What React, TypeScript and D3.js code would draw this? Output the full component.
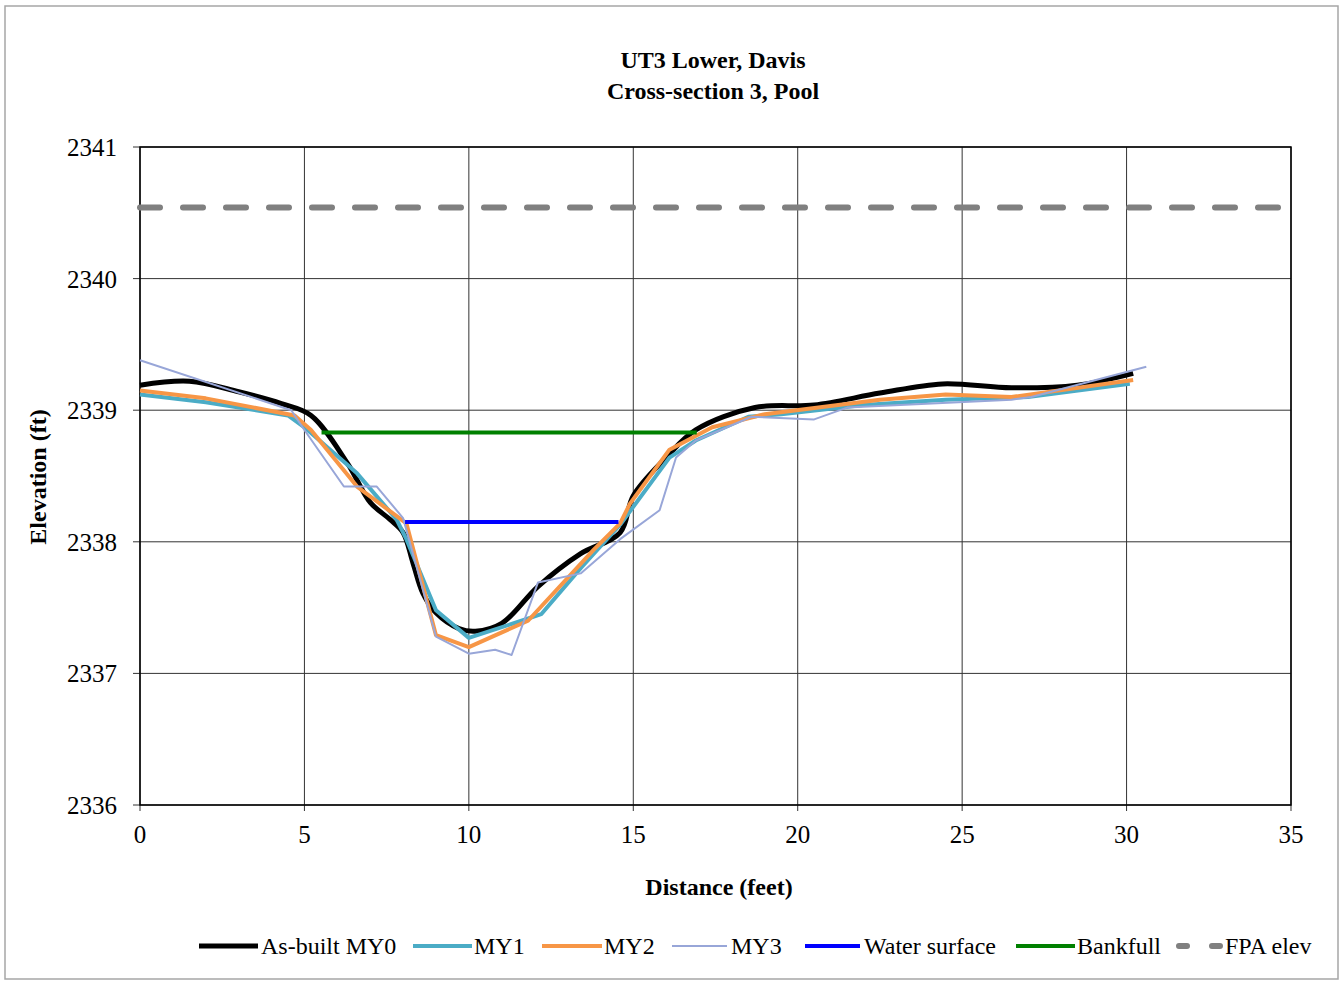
import React from "react";
import * as d3 from "d3";

// ---- data ----
const titleLines = ["UT3 Lower, Davis", "Cross-section 3, Pool"];
const xTicks = [0, 5, 10, 15, 20, 25, 30, 35];
const yTicks = [2336, 2337, 2338, 2339, 2340, 2341];

const asBuiltMY0: [number, number][] = [
  [0, 2339.19], [1.5, 2339.22], [3, 2339.14], [4.3, 2339.05], [5.2, 2338.96],
  [6.3, 2338.6], [7.0, 2338.3], [7.6, 2338.17], [8.0, 2338.07], [8.3, 2337.84],
  [8.6, 2337.61], [9.0, 2337.46], [9.7, 2337.34], [10.2, 2337.32], [11, 2337.38],
  [12.1, 2337.66], [13.4, 2337.91], [14.6, 2338.07], [15.0, 2338.35], [16.0, 2338.64],
  [16.9, 2338.85], [18.7, 2339.02], [20.5, 2339.04], [22.5, 2339.13], [24.4, 2339.2],
  [26.5, 2339.17], [28.5, 2339.19], [30.2, 2339.28],
];
const my1: [number, number][] = [
  [0, 2339.12], [2, 2339.06], [4.5, 2338.96], [5, 2338.87], [6.6, 2338.52],
  [7.8, 2338.17], [8.1, 2338.02], [9.0, 2337.48], [10.0, 2337.27], [11.6, 2337.4],
  [12.2, 2337.45], [13.4, 2337.8], [14.6, 2338.13], [16.1, 2338.64], [16.9, 2338.77],
  [18.5, 2338.95], [19.5, 2338.97], [22, 2339.04], [24.5, 2339.08], [27, 2339.1],
  [30.1, 2339.2],
];
const my2: [number, number][] = [
  [0, 2339.15], [2, 2339.09], [4.7, 2338.96], [5.2, 2338.85], [6.6, 2338.42],
  [8.1, 2338.14], [9.0, 2337.29], [10.0, 2337.2], [11.8, 2337.4],
  [13.8, 2337.94], [14.6, 2338.14], [14.9, 2338.29], [16.1, 2338.7], [17.4, 2338.87],
  [19.0, 2338.97], [22.5, 2339.08], [24.5, 2339.12], [26.5, 2339.1], [30.2, 2339.23],
];
const my3: [number, number][] = [
  [0, 2339.38], [4.6, 2339.0], [5.0, 2338.85], [6.2, 2338.42], [7.2, 2338.42],
  [8.0, 2338.18], [9.0, 2337.28], [10.0, 2337.15], [10.8, 2337.18], [11.3, 2337.14],
  [12.1, 2337.69], [13.4, 2337.76], [14.6, 2338.02], [15.8, 2338.24], [16.3, 2338.64],
  [16.9, 2338.77], [18.6, 2338.95], [20.5, 2338.93], [21.5, 2339.02], [26.5, 2339.08],
  [27.1, 2339.1], [30.6, 2339.33],
];
const waterSurface: [number, number][] = [[8.06, 2338.15], [14.55, 2338.15]];
const bankfull: [number, number][] = [[5.52, 2338.83], [16.93, 2338.83]];
const fpaElev: [number, number][] = [[0, 2340.54], [35, 2340.54]];

const legendLabels = ["As-built MY0", "MY1", "MY2", "MY3", "Water surface", "Bankfull", "FPA elev"];

// ---- layout / style ----
const W = 1343;
const H = 984;
const M = { left: 140, right: 1291, top: 147, bottom: 805 };
const serif = "'Liberation Serif', 'Times New Roman', Times, serif";

const seriesStyle = [
  { data: asBuiltMY0, color: "#000000", width: 5, curve: d3.curveCatmullRom.alpha(0.5), dash: undefined as string | undefined },
  { data: my1, color: "#4BACC6", width: 4, curve: d3.curveLinear, dash: undefined },
  { data: my2, color: "#F79646", width: 4, curve: d3.curveLinear, dash: undefined },
  { data: my3, color: "#98A6D8", width: 2, curve: d3.curveLinear, dash: undefined },
  { data: waterSurface, color: "#0000FF", width: 4, curve: d3.curveLinear, dash: undefined },
  { data: bankfull, color: "#008000", width: 4, curve: d3.curveLinear, dash: undefined },
  { data: fpaElev, color: "#808080", width: 6, curve: d3.curveLinear, dash: "20 23" },
];

const legendPos = [
  { x1: 199, x2: 258, tx: 261 },
  { x1: 413, x2: 472, tx: 474 },
  { x1: 542, x2: 602, tx: 604 },
  { x1: 672, x2: 727, tx: 731 },
  { x1: 805, x2: 860, tx: 864 },
  { x1: 1016, x2: 1075, tx: 1077 },
  { x1: 1179, x2: 1223, tx: 1225 },
];

const textStyle = { fontFamily: serif };

export default function App() {
  const x = d3.scaleLinear().domain([0, 35]).range([M.left, M.right]);
  const y = d3.scaleLinear().domain([2336, 2341]).range([M.bottom, M.top]);
  const line = (curve: d3.CurveFactory) =>
    d3.line<[number, number]>().x((d) => x(d[0])).y((d) => y(d[1])).curve(curve);

  const legendY = 946;

  return (
    <svg
      width={W}
      height={H}
      style={{ position: "absolute", left: 0, top: 0, background: "#fff" }}
    >
      <rect x={0} y={0} width={W} height={H} fill="#fff" />
      <rect x={5} y={6} width={1333} height={973} fill="none" stroke="#a6a6a6" strokeWidth={1.5} />

      {/* title */}
      {titleLines.map((t, i) => (
        <text key={t} x={713} y={68 + i * 31} textAnchor="middle" fontSize={24} fontWeight="bold" fill="#000" style={textStyle}>
          {t}
        </text>
      ))}

      {/* grid */}
      {xTicks.map((t) => (
        <line key={"gx" + t} x1={x(t)} x2={x(t)} y1={M.top} y2={M.bottom + 6} stroke="#333" strokeWidth={1} />
      ))}
      {yTicks.map((t) => (
        <line key={"gy" + t} x1={M.left - 7} x2={M.right} y1={y(t)} y2={y(t)} stroke="#333" strokeWidth={1} />
      ))}
      <rect x={M.left} y={M.top} width={M.right - M.left} height={M.bottom - M.top} fill="none" stroke="#000" strokeWidth={1.5} />

      {/* tick labels */}
      {xTicks.map((t) => (
        <text key={"tx" + t} x={x(t)} y={843} textAnchor="middle" fontSize={25} fill="#000" style={textStyle}>
          {t}
        </text>
      ))}
      {yTicks.map((t) => (
        <text key={"ty" + t} x={117} y={y(t) + 9} textAnchor="end" fontSize={25} fill="#000" style={textStyle}>
          {t}
        </text>
      ))}

      {/* axis titles */}
      <text x={719} y={895} textAnchor="middle" fontSize={24} fontWeight="bold" fill="#000" style={textStyle}>
        Distance (feet)
      </text>
      <text
        transform={`translate(46, 477) rotate(-90)`}
        textAnchor="middle"
        fontSize={24}
        fontWeight="bold"
        fill="#000"
        style={textStyle}
      >
        Elevation (ft)
      </text>

      {/* series */}
      {seriesStyle.map((s, i) => (
        <path
          key={"s" + i}
          d={line(s.curve)(s.data) || ""}
          fill="none"
          stroke={s.color}
          strokeWidth={s.width}
          strokeLinejoin="round"
          strokeLinecap={s.dash ? "round" : "butt"}
          strokeDasharray={s.dash}
        />
      ))}

      {/* legend */}
      {legendLabels.map((lab, i) => {
        const s = seriesStyle[i];
        const p = legendPos[i];
        return (
          <g key={"lg" + i}>
            <line
              x1={p.x1}
              x2={p.x2}
              y1={legendY}
              y2={legendY}
              stroke={s.color}
              strokeWidth={s.width}
              strokeLinecap={s.dash ? "round" : "butt"}
              strokeDasharray={s.dash ? "8 25" : undefined}
            />
            <text x={p.tx} y={legendY + 8} fontSize={24} fill="#000" style={textStyle}>
              {lab}
            </text>
          </g>
        );
      })}
    </svg>
  );
}
